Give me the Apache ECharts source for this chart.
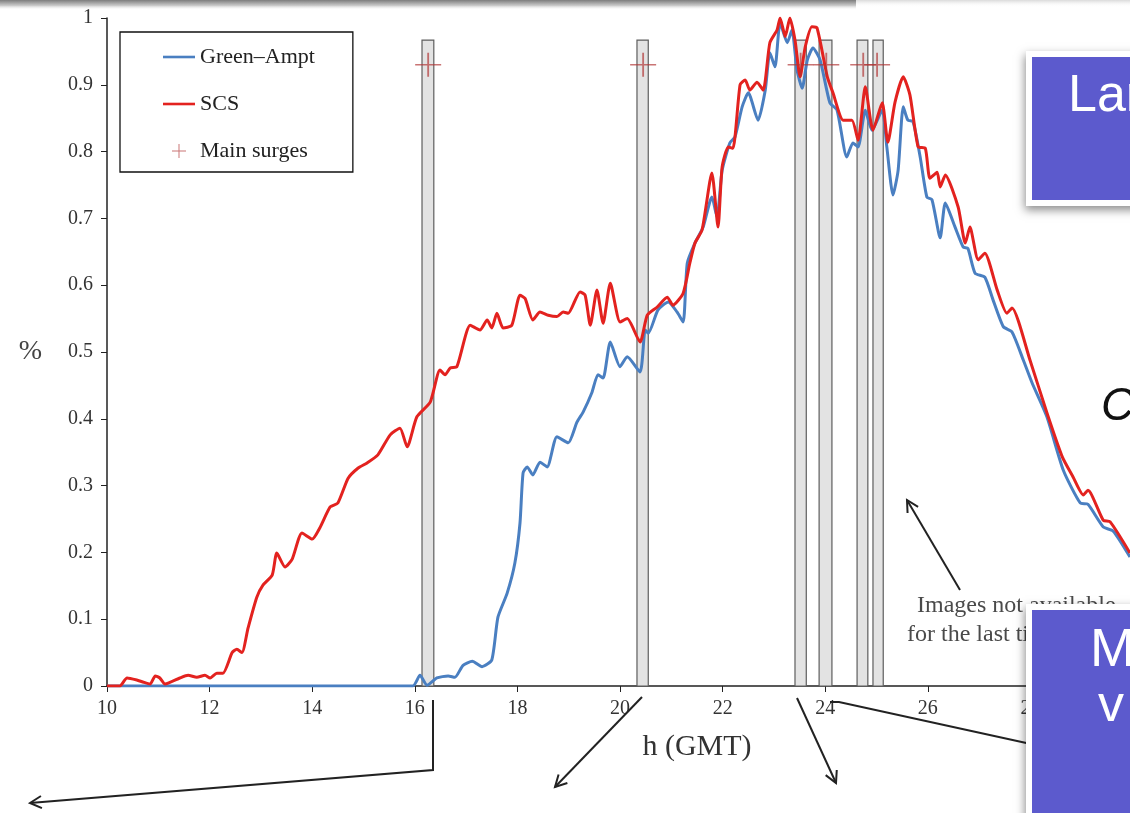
<!DOCTYPE html>
<html>
<head>
<meta charset="utf-8">
<script src="https://cdn.jsdelivr.net/npm/echarts@6/dist/echarts.min.js"></script>
<style>
  html, body { margin: 0; padding: 0; background: #fff; }
  #chart { width: 1130px; height: 813px; }
</style>
</head>
<body>
<div id="chart"></div>
<script>
// Hour of day (GMT) and normalised flooded share for the SCS run
const scsHours = [10.00,10.25,10.39,10.58,10.70,10.84,10.94,11.03,11.13,11.42,
  11.58,11.75,11.91,12.01,12.14,12.26,12.44,12.53,12.63,12.75,
  12.92,13.04,13.22,13.31,13.47,13.61,13.80,14.00,14.15,14.35,
  14.50,14.70,14.89,15.07,15.28,15.52,15.71,15.85,16.04,16.30,
  16.49,16.59,16.69,16.82,17.08,17.27,17.41,17.50,17.60,17.72,
  17.89,18.05,18.15,18.30,18.44,18.60,18.77,18.89,18.99,19.22,
  19.32,19.42,19.55,19.67,19.81,20.00,20.14,20.39,20.53,20.72,
  20.92,21.03,21.23,21.36,21.46,21.60,21.79,21.91,21.99,22.11,
  22.20,22.34,22.44,22.53,22.67,22.79,22.92,23.06,23.12,23.22,
  23.31,23.41,23.51,23.61,23.74,23.84,24.04,24.15,24.35,24.52,
  24.64,24.78,24.93,25.11,25.22,25.36,25.52,25.65,25.81,25.95,
  26.04,26.18,26.24,26.34,26.59,26.73,26.82,26.98,27.11,27.35,
  27.54,27.64,27.99,28.32,28.62,28.83,29.03,29.12,29.42,29.55,
  29.94];
const scsValues = [0,0,0.012,0.009,0.006,0.003,0.015,0.012,0.003,0.012,
  0.016,0.013,0.016,0.012,0.019,0.019,0.05,0.055,0.05,0.087,
  0.133,0.151,0.166,0.199,0.178,0.19,0.229,0.22,0.237,0.268,
  0.274,0.311,0.326,0.334,0.346,0.376,0.386,0.358,0.403,0.425,
  0.473,0.466,0.476,0.478,0.540,0.533,0.548,0.536,0.558,0.536,
  0.540,0.585,0.580,0.548,0.560,0.555,0.553,0.560,0.558,0.590,
  0.585,0.540,0.593,0.543,0.603,0.545,0.550,0.515,0.555,0.567,
  0.582,0.570,0.588,0.633,0.663,0.683,0.768,0.687,0.777,0.807,
  0.805,0.900,0.907,0.892,0.904,0.892,0.963,0.982,1.0,0.972,
  1.0,0.967,0.912,0.957,0.987,0.985,0.912,0.888,0.847,0.847,
  0.817,0.897,0.832,0.873,0.814,0.874,0.912,0.885,0.807,0.805,
  0.760,0.769,0.747,0.765,0.717,0.663,0.687,0.638,0.648,0.593,
  0.558,0.566,0.488,0.409,0.343,0.313,0.286,0.293,0.248,0.246,
  0.199];

// Same quantity for the Green–Ampt infiltration run
const gaHours = [10.00,15.96,16.10,16.24,16.43,16.65,16.78,16.94,17.12,17.31,
  17.50,17.62,17.80,17.95,18.05,18.11,18.19,18.30,18.44,18.58,
  18.77,18.99,19.16,19.28,19.45,19.57,19.67,19.81,20.00,20.14,
  20.39,20.49,20.55,20.74,20.94,21.11,21.23,21.31,21.46,21.62,
  21.79,21.89,21.99,22.14,22.24,22.38,22.50,22.69,22.83,22.92,
  23.02,23.12,23.26,23.35,23.45,23.55,23.65,23.76,23.90,24.09,
  24.23,24.42,24.54,24.64,24.78,24.91,25.11,25.20,25.32,25.42,
  25.52,25.61,25.71,25.85,25.98,26.08,26.24,26.34,26.53,26.69,
  26.78,26.92,27.11,27.27,27.47,27.64,27.86,28.03,28.32,28.64,
  28.97,29.12,29.42,29.61,29.94];
const gaValues = [0,0,0.016,0.001,0.012,0.015,0.013,0.031,0.037,0.029,
  0.039,0.103,0.139,0.184,0.244,0.319,0.328,0.316,0.335,0.328,
  0.373,0.364,0.395,0.410,0.439,0.466,0.461,0.515,0.478,0.493,
  0.470,0.533,0.528,0.563,0.575,0.560,0.545,0.633,0.663,0.687,
  0.732,0.702,0.772,0.813,0.822,0.867,0.888,0.847,0.892,0.948,
  0.927,0.993,0.963,0.982,0.922,0.895,0.937,0.955,0.937,0.873,
  0.862,0.792,0.813,0.807,0.862,0.832,0.862,0.807,0.735,0.772,
  0.867,0.847,0.845,0.792,0.732,0.728,0.671,0.723,0.687,0.657,
  0.655,0.618,0.612,0.578,0.538,0.530,0.488,0.454,0.403,0.323,
  0.274,0.272,0.238,0.232,0.193];

// Main surge windows (start / end hour), their centre and the marker level
const surgeStart = [16.14, 20.33, 23.41, 23.88, 24.62, 24.93];
const surgeEnd   = [16.37, 20.55, 23.63, 24.13, 24.83, 25.13];
const surgePeak  = [16.26, 20.45, 23.52, 24.02, 24.74, 25.01];
const surgeLevel = 0.93;
const windowTop  = 0.967;

const yTicks = [0, 0.1, 0.2, 0.3, 0.4, 0.5, 0.6, 0.7, 0.8, 0.9, 1];

const zip = (xs, ys) => xs.map((x, i) => [x, ys[i]]);
const windowRows = surgeStart.map((s, i) => [s, surgeEnd[i], windowTop]);
const peakRows = surgePeak.map(x => [x, surgeLevel]);

const SERIF = '"Liberation Serif", "Times New Roman", serif';
const SANS = '"Liberation Sans", Arial, sans-serif';
const PLUS = 'path://M9.3 0 h1.4 v20 h-1.4 Z M0 9.3 h20 v1.4 h-20 Z';
// legend sample: a plain stroke inside a 32x14 box
const LINE_ICON = 'path://M0 0 M32 14 M0 5.7 L32 5.7 L32 8.3 L0 8.3 Z';

// Annotation arrows drawn over the figure (screen coordinates)
function arrow(points, withHead) {
  const els = [{
    type: 'polyline', z: 50,
    shape: { points: points },
    style: { stroke: '#222', lineWidth: 2, fill: null }
  }];
  if (withHead) {
    const n = points.length;
    const tip = points[n - 1], prev = points[n - 2];
    const dx = tip[0] - prev[0], dy = tip[1] - prev[1];
    const len = Math.hypot(dx, dy);
    const ux = dx / len, uy = dy / len;
    const a = 28 * Math.PI / 180, L = 13;
    const w1 = [tip[0] - L * (ux * Math.cos(a) - uy * Math.sin(a)), tip[1] - L * (ux * Math.sin(a) + uy * Math.cos(a))];
    const w2 = [tip[0] - L * (ux * Math.cos(-a) - uy * Math.sin(-a)), tip[1] - L * (ux * Math.sin(-a) + uy * Math.cos(-a))];
    els.push({
      type: 'polyline', z: 50,
      shape: { points: [w1, tip, w2] },
      style: { stroke: '#222', lineWidth: 2, fill: null }
    });
  }
  return els;
}

function slideBox(x, y, w, h) {
  return [
    { type: 'rect', z: 60, shape: { x: x - 6, y: y - 6, width: w + 12, height: h + 12 },
      style: { fill: '#ffffff', shadowBlur: 9, shadowColor: 'rgba(0,0,0,0.45)', shadowOffsetX: -1, shadowOffsetY: 4 } },
    { type: 'rect', z: 61, shape: { x: x, y: y, width: w, height: h }, style: { fill: '#5c5acd' } }
  ];
}

const chart = echarts.init(document.getElementById('chart'), null, { renderer: 'canvas' });

const option = {
  backgroundColor: '#ffffff',
  animation: false,
  grid: { left: 107, top: 18, width: 1180, height: 668, containLabel: false, outerBoundsMode: 'none' },
  legend: {
    orient: 'vertical',
    left: 120, top: 32,
    data: [
      { name: 'Green–Ampt', icon: LINE_ICON },
      { name: 'SCS', icon: LINE_ICON },
      { name: 'Main surges' }
    ],
    itemWidth: 32, itemHeight: 14, itemGap: 21,
    padding: [12, 38, 8, 43],
    borderColor: '#111', borderWidth: 1.3,
    backgroundColor: '#ffffff',
    textStyle: { fontFamily: SERIF, fontSize: 22, color: '#222', lineHeight: 26 }
  },
  xAxis: {
    type: 'value', min: 10, max: 33, interval: 2,
    name: 'h (GMT)', nameLocation: 'middle', nameGap: 46,
    nameTextStyle: { fontFamily: SERIF, fontSize: 30, color: '#333' },
    axisLine: { lineStyle: { color: '#222', width: 1.5 } },
    axisTick: { inside: false, length: 6, lineStyle: { color: '#222' } },
    axisLabel: { fontFamily: SERIF, fontSize: 20, color: '#333', margin: 13 },
    splitLine: { show: false }
  },
  yAxis: {
    type: 'value', min: yTicks[0], max: yTicks[yTicks.length - 1], interval: 0.1,
    name: '%', nameLocation: 'middle', nameRotate: 0, nameGap: 65,
    nameTextStyle: { fontFamily: SERIF, fontSize: 28, color: '#444' },
    axisLine: { show: true, lineStyle: { color: '#222', width: 1.5 } },
    axisTick: { show: true, inside: false, length: 6, lineStyle: { color: '#222' } },
    axisLabel: { fontFamily: SERIF, fontSize: 20, color: '#333', margin: 14 },
    splitLine: { show: false }
  },
  series: [
    {
      name: 'surge windows',
      type: 'custom',
      z: 1,
      data: windowRows,
      encode: { x: [0, 1], y: 2 },
      renderItem: function (params, api) {
        const tl = api.coord([api.value(0), api.value(2)]);
        const br = api.coord([api.value(1), 0]);
        return {
          type: 'rect',
          shape: { x: tl[0], y: tl[1], width: br[0] - tl[0], height: br[1] - tl[1] },
          style: { fill: '#e3e3e3', stroke: '#5e5e5e', lineWidth: 1.2 }
        };
      },
      silent: true
    },
    {
      name: 'Green–Ampt',
      type: 'line',
      z: 3,
      data: zip(gaHours, gaValues),
      symbol: 'none',
      smooth: 0.2,
      lineStyle: { color: '#4a7fc1', width: 3, join: 'round' },
      itemStyle: { color: '#4a7fc1' }
    },
    {
      name: 'SCS',
      type: 'line',
      z: 4,
      data: zip(scsHours, scsValues),
      symbol: 'none',
      smooth: 0.2,
      lineStyle: { color: '#e3221f', width: 3, join: 'round' },
      itemStyle: { color: '#e3221f' }
    },
    {
      name: 'Main surges',
      type: 'scatter',
      z: 5,
      data: peakRows,
      symbol: PLUS,
      symbolSize: [26, 24],
      itemStyle: { color: 'rgba(176,52,52,0.85)' }
    }
  ],
  graphic: [
    // soft band along the top edge
    { type: 'rect', z: 40, shape: { x: 0, y: 0, width: 856, height: 10 },
      style: { fill: new echarts.graphic.LinearGradient(0, 0, 0, 1, [
        { offset: 0, color: '#7d7d7d' }, { offset: 0.55, color: '#c9c9c9' }, { offset: 1, color: 'rgba(255,255,255,0)' }]) } },
    { type: 'rect', z: 40, shape: { x: 856, y: 0, width: 274, height: 7 },
      style: { fill: new echarts.graphic.LinearGradient(0, 0, 0, 1, [
        { offset: 0, color: '#dadada' }, { offset: 1, color: 'rgba(255,255,255,0)' }]) } },

    // note under the falling limb
    { type: 'text', z: 45, style: { text: 'Images not available', x: 917, y: 606, fontFamily: SERIF, fontSize: 24, fill: '#4a4a4a', verticalAlign: 'middle' } },
    { type: 'text', z: 45, style: { text: 'for the last time steps', x: 907, y: 635, fontFamily: SERIF, fontSize: 24, fill: '#4a4a4a', verticalAlign: 'middle' } },

    ...arrow([[960, 590], [907, 500]], true),
    ...arrow([[433, 700], [433, 770], [30, 803]], true),
    ...arrow([[642, 697], [555, 787]], true),
    ...arrow([[797, 698], [836, 783]], true),
    ...arrow([[830, 702], [839, 702], [1040, 746]], false),

    { type: 'text', z: 45, style: { text: 'C', x: 1101, y: 407, fontFamily: SANS, fontStyle: 'italic', fontSize: 46, fill: '#111', verticalAlign: 'middle' } },

    ...slideBox(1032, 57, 120, 143),
    { type: 'text', z: 62, style: { text: 'Lar', x: 1068, y: 97, fontFamily: SANS, fontSize: 52, fill: '#ffffff', verticalAlign: 'middle' } },

    ...slideBox(1032, 610, 120, 220),
    { type: 'text', z: 62, style: { text: 'M', x: 1090, y: 651, fontFamily: SANS, fontSize: 54, fill: '#ffffff', verticalAlign: 'middle' } },
    { type: 'text', z: 62, style: { text: 'v', x: 1098, y: 707, fontFamily: SANS, fontSize: 52, fill: '#ffffff', verticalAlign: 'middle' } }
  ]
};

chart.setOption(option);
</script>
</body>
</html>
